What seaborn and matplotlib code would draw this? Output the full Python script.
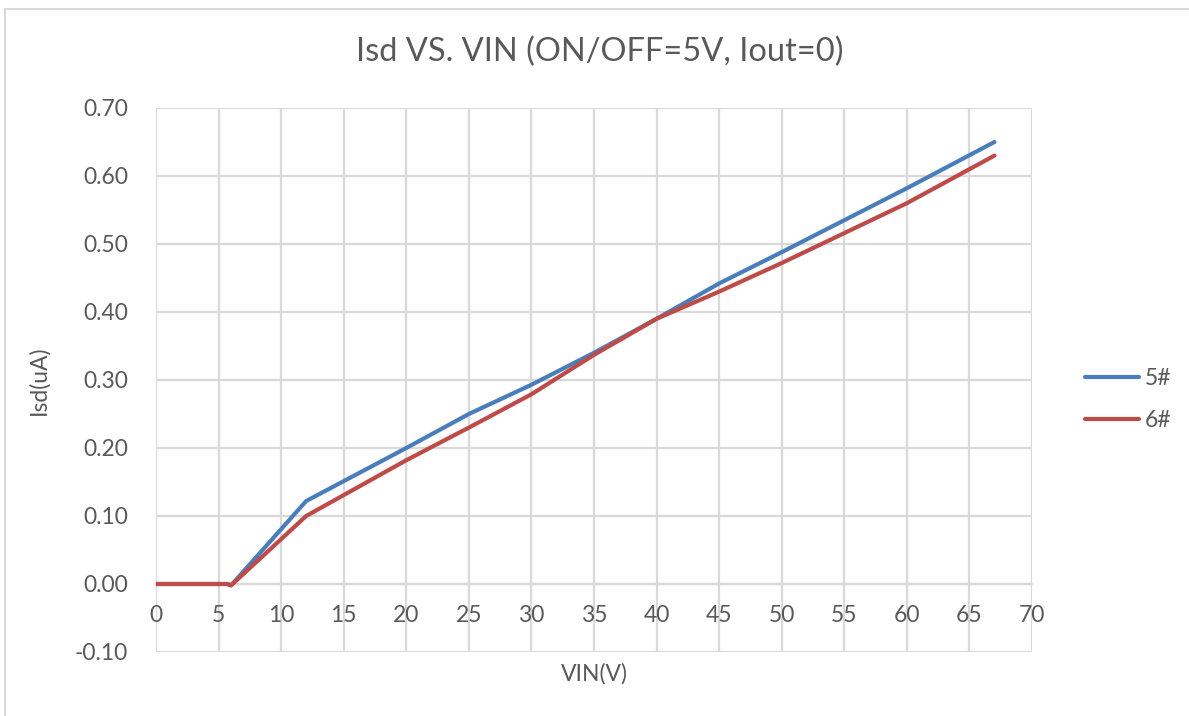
import pandas as pd
import matplotlib.pyplot as plt
import seaborn as sns
from matplotlib.lines import Line2D

# 数据
vin = [0, 5, 5.7, 6, 12, 20, 25, 30, 35, 40, 45, 50, 55, 60, 67]
isd_5 = [0, 0, 0, -0.002, 0.122, 0.200, 0.250, 0.293, 0.340, 0.390, 0.442, 0.488, 0.535, 0.582, 0.650]
isd_6 = [0, 0, 0, -0.002, 0.100, 0.182, 0.230, 0.279, 0.337, 0.390, 0.430, 0.472, 0.516, 0.560, 0.630]
series_names = ["5#", "6#"]
x_ticks = list(range(0, 75, 5))
y_ticks = [-0.10, 0.00, 0.10, 0.20, 0.30, 0.40, 0.50, 0.60, 0.70]

df = pd.DataFrame({
    "VIN": vin * 2,
    "Isd": isd_5 + isd_6,
    "sample": [series_names[0]] * len(vin) + [series_names[1]] * len(vin),
})

sns.set_theme(style="white")
plt.rcParams["font.family"] = ["Lato", "DejaVu Sans"]
text_color = "#595959"
grid_color = "#d9d9d9"
fs = 16.5

fig = plt.figure(figsize=(11.89, 7.16), dpi=100)
ax = fig.add_axes([156 / 1189, 1 - 652 / 716, 876 / 1189, 544 / 716])

sns.lineplot(data=df, x="VIN", y="Isd", hue="sample", palette=["#4a7ebb", "#be4b48"],
             linewidth=3, estimator=None, sort=False, ax=ax, zorder=4,
             solid_capstyle="round", solid_joinstyle="round")

ax.set_xlim(0, 70)
ax.set_ylim(-0.10, 0.70)
ax.set_xticks(x_ticks)
ax.set_yticks(y_ticks)
ax.set_yticklabels([f"{v:.2f}" for v in y_ticks])
ax.grid(True, color=grid_color, linewidth=1.6)
ax.set_axisbelow(True)
for s in ["top", "right", "left"]:
    ax.spines[s].set_visible(False)
# x轴放在 y=0 处（Excel风格）
ax.spines["bottom"].set_position(("data", 0))
ax.spines["bottom"].set_color(grid_color)
ax.spines["bottom"].set_linewidth(1.6)
ax.spines["bottom"].set_zorder(1)
ax.tick_params(axis="x", length=0, pad=15, labelsize=fs, labelcolor=text_color)
ax.tick_params(axis="y", length=0, pad=20, labelsize=fs, labelcolor=text_color)

ax.set_xlabel("VIN(V)", fontsize=fs, color=text_color)
ax.set_ylabel("Isd(uA)", fontsize=fs, color=text_color)
ax.xaxis.set_label_coords(0.5, -0.02)
ax.xaxis.label.set_va("top")
ax.yaxis.set_label_coords(-0.122, 0.5)

fig.text(600 / 1189, 1 - 52 / 716, "Isd VS. VIN (ON/OFF=5V, Iout=0)",
         ha="center", va="center", fontsize=23.5, color=text_color)

ax.legend(loc="center left", bbox_to_anchor=(1085 / 1189, 1 - 399.5 / 716),
          bbox_transform=fig.transFigure, frameon=False, title=None,
          fontsize=fs, labelcolor=text_color, handlelength=2.35,
          handletextpad=0.25, labelspacing=0.95, borderpad=0, borderaxespad=0)

# 图表区边框（左、上）
fig.add_artist(Line2D([5 / 1189, 5 / 1189], [0, 1 - 9 / 716], transform=fig.transFigure,
                      color=grid_color, linewidth=1.5))
fig.add_artist(Line2D([5 / 1189, 1], [1 - 9 / 716, 1 - 9 / 716], transform=fig.transFigure,
                      color=grid_color, linewidth=1.5))

plt.savefig("out.png", dpi=100)
plt.close()
